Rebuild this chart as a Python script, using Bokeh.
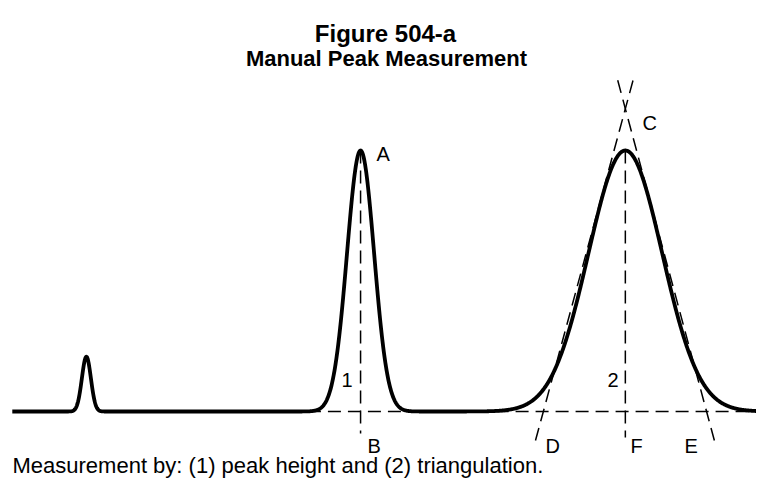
import numpy as np
from bokeh.plotting import figure
from bokeh.models import Range1d
from bokeh.core.properties import value
from bokeh.embed import file_html
from bokeh.resources import INLINE

# ---- data ----
peak_names = ["small", "A", "C"]
peak_time = [1.97, 9.26, 16.30]      # retention time (arbitrary units)
peak_height = [21.0, 100.0, 100.0]   # signal (peak A = 100)
peak_sigma = [0.12, 0.36, 0.98]      # peak width (std. dev.)

# triangulation of peak C: base crossings D, E and apex C
tri_D = [14.12, 0.0]
tri_C = [16.30, 116.0]
tri_E = [18.46, 0.0]

t_start, t_end = 0.0, 20.2

# ---- figure ----
W, H = 756, 478
PXT = 37.61          # pixels per time unit
PXV = 2.61           # pixels per signal unit
X_ORIGIN, Y_BASE = 11.8, 411.0
x0, x1 = -X_ORIGIN / PXT, (W - X_ORIGIN) / PXT
y0, y1 = -(H - Y_BASE) / PXV, Y_BASE / PXV

p = figure(width=W, height=H, output_backend="svg", toolbar_location=None,
           x_range=Range1d(x0, x1), y_range=Range1d(y0, y1),
           min_border=0, x_axis_location=None, y_axis_location=None)
p.grid.visible = False
p.outline_line_color = None
p.background_fill_color = "white"


def px(xp, yp):
    """figure pixel -> data coordinates (for text placement)"""
    return (x0 + xp / W * (x1 - x0), y1 - yp / H * (y1 - y0))


FONT = value("Liberation Sans")
DASH = "13 7"
DW = 1.5

# dashed construction lines, peak A
cA = peak_time[1]
p.line([cA, cA], [peak_height[1], -8.4], line_color="black", line_width=DW, line_dash=DASH)
p.line([cA - 1.4, cA + 1.4], [0, 0], line_color="black", line_width=DW, line_dash=DASH)

# dashed construction lines, peak C
cC = peak_time[2]
p.line([cC, cC], [peak_height[2], -10.0], line_color="black", line_width=DW, line_dash=DASH)
p.line([cC - 3.45, cC + 3.46], [0, 0], line_color="black", line_width=DW, line_dash=DASH)

s0, s1 = -0.096, 1.10
for base in (tri_D, tri_E):
    dx = tri_C[0] - base[0]
    dy = tri_C[1] - base[1]
    p.line([base[0] + s0 * dx, base[0] + s1 * dx], [base[1] + s0 * dy, base[1] + s1 * dy],
           line_color="black", line_width=DW, line_dash=DASH)

# chromatogram
t = np.linspace(t_start, t_end, 2001)
sig = np.zeros_like(t)
for c, h, s in zip(peak_time, peak_height, peak_sigma):
    sig += h * np.exp(-0.5 * ((t - c) / s) ** 2)
p.line(t, sig, line_color="black", line_width=3.8, line_join="round")

# ---- texts ----
def txt(xp, yp, s, size, align="left", style="normal"):
    x, y = px(xp, yp)
    p.text(x=[x], y=[y], text=[s], text_font=FONT, text_font_size=f"{size}px",
           text_align=align, text_baseline="middle", text_font_style=style,
           text_color="black")

txt(385, 33, "Figure 504-a", 24, "center", "bold")
txt(386, 58, "Manual Peak Measurement", 22, "center", "bold")

LS = 20
txt(376, 153, "A", LS)
txt(367, 445, "B", LS)
txt(642, 122, "C", LS)
txt(545, 445, "D", LS)
txt(684, 445, "E", LS)
txt(630, 445, "F", LS)
txt(352, 379, "1", LS, "right")
txt(618, 379, "2", LS, "right")

txt(12, 465, "Measurement by:  (1) peak height and (2) triangulation.", 22)

open("out.html", "w").write(file_html(p, INLINE))
